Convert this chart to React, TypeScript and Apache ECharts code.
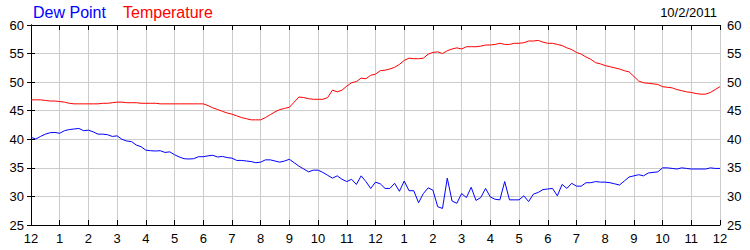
import React, { useEffect, useRef } from "react";
import * as echarts from "echarts";

const hourLabels = ["12", "1", "2", "3", "4", "5", "6", "7", "8", "9", "10", "11", "12", "1", "2", "3", "4", "5", "6", "7", "8", "9", "10", "11", "12"];
const stepMinutes = 10;
const dateLabel = "10/2/2011";

// one reading every 10 minutes, midnight to midnight
const temperature = [
  46.9, 46.9, 46.9, 46.8, 46.7, 46.7,
  46.6, 46.5, 46.3, 46.2, 46.2, 46.2,
  46.2, 46.2, 46.2, 46.3, 46.3, 46.4,
  46.5, 46.5, 46.4, 46.4, 46.4, 46.3,
  46.3, 46.3, 46.3, 46.2, 46.2, 46.2,
  46.2, 46.2, 46.2, 46.2, 46.2, 46.2,
  46.2, 45.9, 45.5, 45.2, 44.9, 44.6,
  44.4, 44.1, 43.8, 43.6, 43.4, 43.4,
  43.4, 43.8, 44.3, 44.8, 45.2, 45.4,
  45.6, 46.5, 47.4, 47.3, 47.1, 47.0,
  47.0, 47.0, 47.3, 48.6, 48.3, 48.6,
  49.3, 49.9, 50.1, 50.7, 50.6, 51.2,
  51.4, 52.0, 52.1, 52.3, 52.6, 53.1,
  53.8, 54.2, 54.1, 54.1, 54.2, 54.9,
  55.2, 55.3, 55.0, 55.5, 55.8, 56.0,
  55.8, 56.2, 56.2, 56.2, 56.3, 56.5,
  56.5, 56.6, 56.8, 56.6, 56.6, 56.8,
  56.8, 56.9, 57.2, 57.2, 57.3, 57.0,
  56.8, 56.8, 56.6, 56.4, 56.0, 55.7,
  55.2, 54.9, 54.4, 54.0, 53.4, 53.2,
  52.9, 52.7, 52.5, 52.3, 52.0, 51.8,
  51.0, 50.2, 49.9, 49.8, 49.7, 49.6,
  49.2, 49.1, 49.0, 48.7, 48.5, 48.3,
  48.2, 48.0, 47.9, 47.9, 48.2, 48.7,
  49.2,
];

const dewPoint = [
  40.35, 40.05, 40.5, 40.9, 41.15, 41.2,
  41.05, 41.5, 41.7, 41.8, 41.9, 41.5,
  41.6, 41.3, 40.9, 40.9, 40.8, 40.5,
  40.6, 40.0, 39.7, 39.6, 39.0, 38.7,
  38.1, 38.0, 37.95, 38.0, 37.7, 37.8,
  37.3, 36.9, 36.6, 36.55, 36.6, 36.95,
  36.95, 37.1, 37.2, 36.9, 37.0, 36.8,
  36.7, 36.3, 36.3, 36.2, 36.1, 35.9,
  36.0, 36.4, 36.4, 36.2, 36.0, 36.2,
  36.5, 35.9, 35.3, 34.8, 34.3, 34.6,
  34.6, 34.2, 33.7, 33.2, 33.6, 33.0,
  32.6, 33.0, 32.1, 33.6, 32.6, 31.4,
  32.5, 32.2, 31.4, 31.4, 32.3, 30.9,
  32.7, 31.0, 31.0, 28.9, 30.5, 31.5,
  31.1, 28.2, 27.9, 33.2, 29.2, 28.8,
  30.5, 29.8, 31.6, 29.3, 29.8, 31.4,
  29.9, 29.5, 29.4, 32.6, 29.4, 29.4,
  29.4, 30.1, 29.1, 30.4, 30.7, 31.2,
  31.3, 31.4, 30.1, 32.1, 31.4, 32.3,
  31.8, 31.8, 32.4, 32.4, 32.6, 32.5,
  32.5, 32.4, 32.2, 32.0, 32.7, 33.4,
  33.6, 33.8, 33.6, 34.1, 34.2, 34.3,
  35.0, 35.0, 34.9, 34.8, 35.0, 34.9,
  34.8, 34.8, 34.8, 34.8, 35.0, 34.9,
  34.9,
];

const yMin = 25;
const yMax = 60;
const yStep = 5;

const FONT = "'Liberation Sans', Arial, sans-serif";

export default function App() {
  const ref = useRef<HTMLDivElement>(null);

  useEffect(() => {
    document.body.style.margin = "0";
    if (!ref.current) return;
    const chart = echarts.init(ref.current, null, { renderer: "svg" });

    const toPairs = (arr: number[]) => arr.map((v, i) => [(i * stepMinutes) / 60, v]);

    const yAxisBase = {
      type: "value",
      min: yMin,
      max: yMax,
      interval: yStep,
      axisLine: { show: true, lineStyle: { color: "#000", width: 1 } },
      axisTick: { show: true, inside: false, length: 4, lineStyle: { color: "#000" } },
      axisLabel: { color: "#000", fontSize: 13, fontFamily: FONT, margin: 7 },
    };

    chart.setOption({
      animation: false,
      backgroundColor: "#fff",
      grid: { left: 31, right: 30, top: 25, bottom: 25, containLabel: false },
      graphic: [
        { type: "text", left: 33, top: 4, style: { text: "Dew Point", fill: "#0000ff", font: `16px ${FONT}` } },
        { type: "text", left: 123, top: 4, style: { text: "Temperature", fill: "#ff0000", font: `16px ${FONT}` } },
        { type: "text", right: 33, top: 6, style: { text: dateLabel, fill: "#000", font: `13px ${FONT}` } },
      ],
      xAxis: [
        {
          type: "value",
          position: "bottom",
          min: 0,
          max: 24,
          interval: 1,
          axisLine: { show: true, onZero: false, lineStyle: { color: "#000", width: 1 } },
          axisTick: { show: true, inside: true, length: 5, lineStyle: { color: "#000" } },
          axisLabel: {
            color: "#000",
            fontSize: 13,
            fontFamily: FONT,
            margin: 7,
            formatter: (v: number) => hourLabels[Math.round(v)] ?? "",
          },
          splitLine: { show: true, lineStyle: { color: "#cccccc", width: 1 } },
        },
        {
          type: "value",
          position: "top",
          min: 0,
          max: 24,
          interval: 1,
          axisLine: { show: true, onZero: false, lineStyle: { color: "#000", width: 1 } },
          axisTick: { show: true, inside: true, length: 5, lineStyle: { color: "#000" } },
          axisLabel: { show: false },
          splitLine: { show: false },
        },
      ],
      yAxis: [
        {
          ...yAxisBase,
          position: "left",
          splitLine: { show: true, lineStyle: { color: "#cccccc", width: 1 } },
        },
        {
          ...yAxisBase,
          position: "right",
          splitLine: { show: false },
        },
      ],
      series: [
        {
          name: "Temperature",
          type: "line",
          xAxisIndex: 0,
          yAxisIndex: 0,
          data: toPairs(temperature),
          symbol: "none",
          lineStyle: { color: "#ff0000", width: 1 },
          itemStyle: { color: "#ff0000" },
        },
        {
          name: "Dew Point",
          type: "line",
          xAxisIndex: 0,
          yAxisIndex: 0,
          data: toPairs(dewPoint),
          symbol: "none",
          lineStyle: { color: "#0000ff", width: 1 },
          itemStyle: { color: "#0000ff" },
        },
      ],
    });

    return () => chart.dispose();
  }, []);

  return <div ref={ref} style={{ width: 750, height: 250 }} />;
}
